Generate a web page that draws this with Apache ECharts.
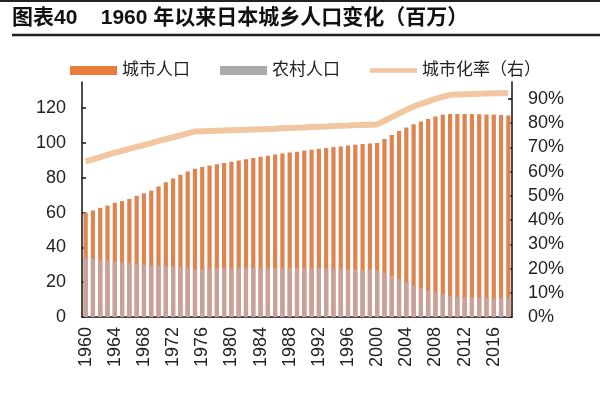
<!DOCTYPE html>
<html>
<head>
<meta charset="utf-8">
<script src="https://cdn.jsdelivr.net/npm/echarts@6/dist/echarts.min.js"></script>
<style>
html,body{margin:0;padding:0;background:#fff;}
#c{width:600px;height:415px;}
</style>
</head>
<body>
<div id="c"></div>
<script>
var years = [];
for (var y = 1960; y <= 2018; y++) years.push(String(y));

var urbanPop = [60.0,61.2,62.7,64.0,65.6,66.6,67.8,69.6,71.0,72.6,
  75.0,77.4,79.6,81.7,83.6,85.2,86.2,87.0,87.8,88.5,
  89.2,89.9,90.6,91.3,92.0,92.7,93.3,93.9,94.5,95.0,
  95.6,96.1,96.6,97.1,97.6,98.0,98.5,98.9,99.4,99.7,
  100.0,102.3,104.6,106.8,108.9,110.7,112.3,113.8,115.2,116.2,
  116.6,116.6,116.6,116.6,116.5,116.4,116.3,116.1,115.8];

var ruralPop = [34.2,33.6,32.9,32.3,31.9,31.4,30.9,30.5,30.1,29.6,
  29.4,29.3,29.0,28.7,28.3,27.4,27.6,27.7,27.8,27.9,
  27.9,28.0,28.0,28.1,28.1,28.2,28.2,28.1,28.1,28.1,
  28.0,27.9,27.9,27.8,27.6,27.6,27.5,27.4,27.2,27.1,
  26.9,25.3,23.5,21.7,19.8,17.9,16.5,15.2,14.0,12.9,
  11.8,11.6,11.4,11.3,11.1,10.9,10.8,10.7,10.6];

var urbanRate = [64.2,65.1,66.0,66.9,67.8,68.6,69.4,70.2,71.0,71.8,
  72.7,73.4,74.2,75.0,75.8,76.6,76.7,76.8,76.9,77.0,
  77.1,77.2,77.3,77.4,77.5,77.6,77.7,77.9,78.0,78.1,
  78.2,78.4,78.5,78.6,78.8,78.9,79.0,79.2,79.3,79.4,
  79.5,81.0,82.5,84.0,85.5,86.9,88.0,89.0,90.0,90.9,
  91.7,91.8,91.9,92.0,92.1,92.3,92.4,92.4,92.5];

var leftTicks = {min: 0, max: 135, interval: 20};
var rightTicks = {min: 0, max: 97, interval: 10};

var FONT = 'Liberation Sans, Arial, Noto Sans CJK SC, sans-serif';
var LINE_ICON = 'path://M0,0L0.01,0L0.01,0.01L0,0.01Z M0,9L0.01,9L0.01,8.99L0,8.99Z M0,2.2L47,2.2L47,6.8L0,6.8Z';
var chart = echarts.init(document.getElementById('c'));
chart.setOption({
  animation: false,
  backgroundColor: '#fff',
  graphic: [
    {type: 'line', shape: {x1: 0, y1: 1, x2: 600, y2: 1}, style: {stroke: '#222', lineWidth: 2}},
    {type: 'text', left: 12, top: 8, style: {text: '图表40    1960 年以来日本城乡人口变化（百万）', fontSize: 21, fontWeight: 'bold', fontFamily: FONT, fill: '#111'}},
    {type: 'line', shape: {x1: 12, y1: 35, x2: 600, y2: 35}, style: {stroke: '#222', lineWidth: 2.5}}
  ],
  legend: {
    top: 57, left: 65,
    itemWidth: 47, itemHeight: 9, itemGap: 30,
    textStyle: {fontSize: 17, fontFamily: FONT, color: '#222'},
    data: [
      {name: '城市人口', icon: 'rect', itemStyle: {color: '#EB7D3C'}},
      {name: '农村人口', icon: 'rect', itemStyle: {color: '#ABABAB'}},
      {name: '城市化率（右）', icon: LINE_ICON, itemStyle: {color: '#F1C6A0', borderWidth: 0}}
    ]
  },
  grid: {left: 82, right: 88, top: 82, bottom: 98},
  xAxis: {
    type: 'category',
    data: years,
    boundaryGap: true,
    axisLine: {lineStyle: {color: '#111', width: 1.5}},
    axisTick: {inside: true, interval: 0, length: 4, lineStyle: {color: '#111', width: 1.5}},
    axisLabel: {interval: 3, rotate: 90, fontSize: 18, fontFamily: FONT, color: '#222', margin: 10}
  },
  yAxis: [
    {
      type: 'value', min: leftTicks.min, max: leftTicks.max, interval: leftTicks.interval,
      splitLine: {show: false},
      axisLine: {show: true, lineStyle: {color: '#111', width: 1.5}},
      axisTick: {show: true, inside: true, length: 4, lineStyle: {color: '#111', width: 1.5}},
      axisLabel: {showMaxLabel: false, fontSize: 18, fontFamily: FONT, color: '#222', margin: 16}
    },
    {
      type: 'value', min: rightTicks.min, max: rightTicks.max, interval: rightTicks.interval,
      position: 'right',
      splitLine: {show: false},
      axisLine: {show: true, lineStyle: {color: '#111', width: 1.5}},
      axisTick: {show: true, inside: true, length: 4, lineStyle: {color: '#111', width: 1.5}},
      axisLabel: {showMaxLabel: false, formatter: '{value}%', fontSize: 18, fontFamily: FONT, color: '#222', margin: 16}
    }
  ],
  series: [
    {
      name: '城市人口', type: 'bar', data: urbanPop, barWidth: '58%', barGap: '-100%',
      itemStyle: {color: '#DD8450'}
    },
    {
      name: '农村人口', type: 'bar', data: ruralPop, barWidth: '58%', barGap: '-100%',
      itemStyle: {color: '#C8A29A'}
    },
    {
      name: '城市化率（右）', type: 'line', yAxisIndex: 1, data: urbanRate,
      symbol: 'none', z: 5,
      lineStyle: {color: '#F1C6A0', width: 6},
      itemStyle: {color: '#F1C6A0'}
    }
  ]
});
</script>
</body>
</html>
